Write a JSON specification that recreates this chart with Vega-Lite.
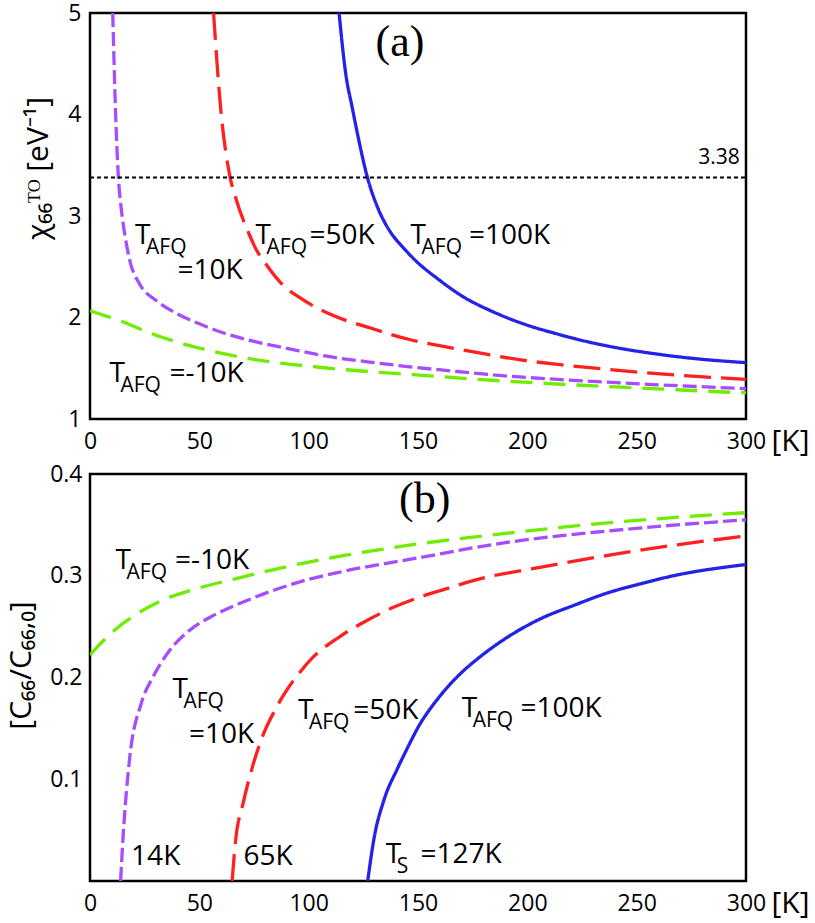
{
  "$schema": "https://vega.github.io/schema/vega-lite/v6.json",
  "background": "white",
  "padding": {"left": 5, "top": 0, "right": 5, "bottom": 0},
  "spacing": 3,
  "config": {
    "view": {"stroke": "black", "strokeWidth": 2.5},
    "font": "Open Sans",
    "axis": {
      "domain": false,
      "grid": false,
      "ticks": false,
      "labelFont": "Open Sans",
      "labelFontSize": 23,
      "labelColor": "black",
      "labelOverlap": false,
      "labelFlush": false,
      "titleFont": "Open Sans",
      "titleFontWeight": "normal",
      "titleColor": "black"
    },
    "rule": {"color": "#444", "strokeWidth": 1.5},
    "text": {"font": "Open Sans", "color": "black", "align": "left", "baseline": "alphabetic"}
  },
  "datasets": {
    "chi": [
      {"series": "10K", "temp": 10.4, "chi": 5.0},
      {"series": "10K", "temp": 11.6, "chi": 4.08},
      {"series": "10K", "temp": 12.8, "chi": 3.45},
      {"series": "10K", "temp": 14.4, "chi": 3.05},
      {"series": "10K", "temp": 15.9, "chi": 2.82},
      {"series": "10K", "temp": 18.2, "chi": 2.56},
      {"series": "10K", "temp": 22.7, "chi": 2.33},
      {"series": "10K", "temp": 30.4, "chi": 2.165},
      {"series": "10K", "temp": 39.5, "chi": 2.04},
      {"series": "10K", "temp": 48.6, "chi": 1.95},
      {"series": "10K", "temp": 60.8, "chi": 1.85},
      {"series": "10K", "temp": 76.0, "chi": 1.76},
      {"series": "10K", "temp": 91.2, "chi": 1.692},
      {"series": "10K", "temp": 104.7, "chi": 1.632},
      {"series": "10K", "temp": 132.0, "chi": 1.55},
      {"series": "10K", "temp": 145.2, "chi": 1.517},
      {"series": "10K", "temp": 168.0, "chi": 1.468},
      {"series": "10K", "temp": 190.9, "chi": 1.423},
      {"series": "10K", "temp": 213.7, "chi": 1.39},
      {"series": "10K", "temp": 236.5, "chi": 1.363},
      {"series": "10K", "temp": 259.3, "chi": 1.337},
      {"series": "10K", "temp": 282.0, "chi": 1.316},
      {"series": "10K", "temp": 300.0, "chi": 1.298},
      {"series": "50K", "temp": 56.5, "chi": 5.0},
      {"series": "50K", "temp": 59.8, "chi": 4.05},
      {"series": "50K", "temp": 63.9, "chi": 3.4},
      {"series": "50K", "temp": 66.9, "chi": 3.16},
      {"series": "50K", "temp": 72.8, "chi": 2.82},
      {"series": "50K", "temp": 76.0, "chi": 2.67},
      {"series": "50K", "temp": 80.0, "chi": 2.54},
      {"series": "50K", "temp": 88.2, "chi": 2.32},
      {"series": "50K", "temp": 95.6, "chi": 2.2},
      {"series": "50K", "temp": 109.4, "chi": 2.036},
      {"series": "50K", "temp": 127.7, "chi": 1.9},
      {"series": "50K", "temp": 145.2, "chi": 1.788},
      {"series": "50K", "temp": 160.4, "chi": 1.72},
      {"series": "50K", "temp": 178.7, "chi": 1.648},
      {"series": "50K", "temp": 197.0, "chi": 1.582},
      {"series": "50K", "temp": 215.2, "chi": 1.535},
      {"series": "50K", "temp": 235.0, "chi": 1.492},
      {"series": "50K", "temp": 251.8, "chi": 1.46},
      {"series": "50K", "temp": 271.6, "chi": 1.428},
      {"series": "50K", "temp": 300.0, "chi": 1.39},
      {"series": "100K", "temp": 113.9, "chi": 5.0},
      {"series": "100K", "temp": 116.9, "chi": 4.41},
      {"series": "100K", "temp": 120.0, "chi": 4.06},
      {"series": "100K", "temp": 123.0, "chi": 3.74},
      {"series": "100K", "temp": 126.5, "chi": 3.41},
      {"series": "100K", "temp": 132.0, "chi": 3.06},
      {"series": "100K", "temp": 135.2, "chi": 2.92},
      {"series": "100K", "temp": 145.3, "chi": 2.64},
      {"series": "100K", "temp": 160.3, "chi": 2.36},
      {"series": "100K", "temp": 171.0, "chi": 2.2},
      {"series": "100K", "temp": 183.2, "chi": 2.067},
      {"series": "100K", "temp": 198.4, "chi": 1.936},
      {"series": "100K", "temp": 213.6, "chi": 1.838},
      {"series": "100K", "temp": 228.8, "chi": 1.755},
      {"series": "100K", "temp": 244.0, "chi": 1.69},
      {"series": "100K", "temp": 259.2, "chi": 1.64},
      {"series": "100K", "temp": 274.4, "chi": 1.6},
      {"series": "100K", "temp": 300.0, "chi": 1.555},
      {"series": "-10K", "temp": 0.0, "chi": 2.067},
      {"series": "-10K", "temp": 13.4, "chi": 1.97},
      {"series": "-10K", "temp": 28.6, "chi": 1.838},
      {"series": "-10K", "temp": 51.5, "chi": 1.69},
      {"series": "-10K", "temp": 74.3, "chi": 1.59},
      {"series": "-10K", "temp": 104.7, "chi": 1.51},
      {"series": "-10K", "temp": 132.0, "chi": 1.46},
      {"series": "-10K", "temp": 147.6, "chi": 1.437},
      {"series": "-10K", "temp": 168.0, "chi": 1.405},
      {"series": "-10K", "temp": 190.9, "chi": 1.372},
      {"series": "-10K", "temp": 213.7, "chi": 1.345},
      {"series": "-10K", "temp": 236.5, "chi": 1.32},
      {"series": "-10K", "temp": 259.3, "chi": 1.297},
      {"series": "-10K", "temp": 282.0, "chi": 1.274},
      {"series": "-10K", "temp": 300.0, "chi": 1.257}
    ],
    "level": [
      {"temp": 0, "chi": 3.38},
      {"temp": 300, "chi": 3.38}
    ],
    "ratio": [
      {"series": "-10K", "temp": 0.0, "ratio": 0.222},
      {"series": "-10K", "temp": 2.9, "ratio": 0.229},
      {"series": "-10K", "temp": 12.0, "ratio": 0.248},
      {"series": "-10K", "temp": 21.1, "ratio": 0.262},
      {"series": "-10K", "temp": 33.2, "ratio": 0.276},
      {"series": "-10K", "temp": 48.3, "ratio": 0.287},
      {"series": "-10K", "temp": 66.4, "ratio": 0.297},
      {"series": "-10K", "temp": 96.7, "ratio": 0.312},
      {"series": "-10K", "temp": 116.4, "ratio": 0.32},
      {"series": "-10K", "temp": 146.0, "ratio": 0.33},
      {"series": "-10K", "temp": 191.4, "ratio": 0.342},
      {"series": "-10K", "temp": 236.8, "ratio": 0.352},
      {"series": "-10K", "temp": 300.0, "ratio": 0.362},
      {"series": "10K", "temp": 14.0, "ratio": 0.0},
      {"series": "10K", "temp": 15.1, "ratio": 0.0424},
      {"series": "10K", "temp": 18.0, "ratio": 0.118},
      {"series": "10K", "temp": 23.5, "ratio": 0.175},
      {"series": "10K", "temp": 28.7, "ratio": 0.2},
      {"series": "10K", "temp": 36.2, "ratio": 0.226},
      {"series": "10K", "temp": 45.3, "ratio": 0.246},
      {"series": "10K", "temp": 57.4, "ratio": 0.262},
      {"series": "10K", "temp": 69.5, "ratio": 0.2737},
      {"series": "10K", "temp": 83.1, "ratio": 0.285},
      {"series": "10K", "temp": 96.7, "ratio": 0.2945},
      {"series": "10K", "temp": 116.3, "ratio": 0.3045},
      {"series": "10K", "temp": 146.0, "ratio": 0.316},
      {"series": "10K", "temp": 191.4, "ratio": 0.333},
      {"series": "10K", "temp": 236.8, "ratio": 0.344},
      {"series": "10K", "temp": 300.0, "ratio": 0.355},
      {"series": "50K", "temp": 65.0, "ratio": 0.0},
      {"series": "50K", "temp": 66.4, "ratio": 0.036},
      {"series": "50K", "temp": 70.2, "ratio": 0.078},
      {"series": "50K", "temp": 74.0, "ratio": 0.11},
      {"series": "50K", "temp": 78.5, "ratio": 0.14},
      {"series": "50K", "temp": 84.6, "ratio": 0.168},
      {"series": "50K", "temp": 88.3, "ratio": 0.182},
      {"series": "50K", "temp": 95.9, "ratio": 0.205},
      {"series": "50K", "temp": 102.0, "ratio": 0.22},
      {"series": "50K", "temp": 114.1, "ratio": 0.24},
      {"series": "50K", "temp": 126.2, "ratio": 0.2555},
      {"series": "50K", "temp": 138.2, "ratio": 0.2685},
      {"series": "50K", "temp": 150.3, "ratio": 0.2786},
      {"series": "50K", "temp": 162.4, "ratio": 0.2868},
      {"series": "50K", "temp": 176.0, "ratio": 0.2957},
      {"series": "50K", "temp": 206.5, "ratio": 0.3085},
      {"series": "50K", "temp": 236.8, "ratio": 0.32},
      {"series": "50K", "temp": 267.0, "ratio": 0.33},
      {"series": "50K", "temp": 300.0, "ratio": 0.339},
      {"series": "100K", "temp": 127.0, "ratio": 0.0},
      {"series": "100K", "temp": 129.9, "ratio": 0.042},
      {"series": "100K", "temp": 134.5, "ratio": 0.08},
      {"series": "100K", "temp": 140.5, "ratio": 0.11},
      {"series": "100K", "temp": 145.0, "ratio": 0.13},
      {"series": "100K", "temp": 150.3, "ratio": 0.152},
      {"series": "100K", "temp": 159.4, "ratio": 0.18},
      {"series": "100K", "temp": 170.0, "ratio": 0.205},
      {"series": "100K", "temp": 177.6, "ratio": 0.219},
      {"series": "100K", "temp": 191.2, "ratio": 0.24},
      {"series": "100K", "temp": 206.3, "ratio": 0.258},
      {"series": "100K", "temp": 221.4, "ratio": 0.271},
      {"series": "100K", "temp": 236.5, "ratio": 0.283},
      {"series": "100K", "temp": 251.6, "ratio": 0.292},
      {"series": "100K", "temp": 266.8, "ratio": 0.3},
      {"series": "100K", "temp": 300.0, "ratio": 0.311}
    ],
    "xMajor": [{"temp": 50}, {"temp": 100}, {"temp": 150}, {"temp": 200}, {"temp": 250}],
    "xMinor": [
      {"temp": 10}, {"temp": 20}, {"temp": 30}, {"temp": 40},
      {"temp": 60}, {"temp": 70}, {"temp": 80}, {"temp": 90},
      {"temp": 110}, {"temp": 120}, {"temp": 130}, {"temp": 140},
      {"temp": 160}, {"temp": 170}, {"temp": 180}, {"temp": 190},
      {"temp": 210}, {"temp": 220}, {"temp": 230}, {"temp": 240},
      {"temp": 260}, {"temp": 270}, {"temp": 280}, {"temp": 290}
    ],
    "yMajorA": [{"chi": 2}, {"chi": 3}, {"chi": 4}],
    "yMinorA": [
      {"chi": 1.2}, {"chi": 1.4}, {"chi": 1.6}, {"chi": 1.8},
      {"chi": 2.2}, {"chi": 2.4}, {"chi": 2.6}, {"chi": 2.8},
      {"chi": 3.2}, {"chi": 3.4}, {"chi": 3.6}, {"chi": 3.8},
      {"chi": 4.2}, {"chi": 4.4}, {"chi": 4.6}, {"chi": 4.8}
    ],
    "yMajorB": [{"ratio": 0.1}, {"ratio": 0.2}, {"ratio": 0.3}],
    "yMinorB": [
      {"ratio": 0.02}, {"ratio": 0.04}, {"ratio": 0.06}, {"ratio": 0.08},
      {"ratio": 0.12}, {"ratio": 0.14}, {"ratio": 0.16}, {"ratio": 0.18},
      {"ratio": 0.22}, {"ratio": 0.24}, {"ratio": 0.26}, {"ratio": 0.28},
      {"ratio": 0.32}, {"ratio": 0.34}, {"ratio": 0.36}, {"ratio": 0.38}
    ],
    "tA": [
      {"temp": 20.6, "chi": 2.72, "sub": "AFQ"},
      {"temp": 75.7, "chi": 2.72, "sub": "AFQ"},
      {"temp": 146.6, "chi": 2.72, "sub": "AFQ"},
      {"temp": 8.9, "chi": 1.362, "sub": "AFQ"}
    ],
    "pA": [
      {"temp": 40.0, "chi": 2.379, "text": "=10K"},
      {"temp": 100.4, "chi": 2.72, "text": "=50K"},
      {"temp": 173.3, "chi": 2.72, "text": "=100K"},
      {"temp": 36.3, "chi": 1.362, "text": "=-10K"}
    ],
    "sA": [{"temp": 297.2, "chi": 3.509, "text": "3.38"}],
    "nA": [{"temp": 130.6, "chi": 4.58, "text": "(a)"}],
    "tB": [
      {"temp": 11.7, "ratio": 0.3065, "sub": "AFQ"},
      {"temp": 37.7, "ratio": 0.18, "sub": "AFQ"},
      {"temp": 95.1, "ratio": 0.159, "sub": "AFQ"},
      {"temp": 170.0, "ratio": 0.161, "sub": "AFQ"},
      {"temp": 135.2, "ratio": 0.0178, "sub": "S"}
    ],
    "pB": [
      {"temp": 38.9, "ratio": 0.3065, "text": "=-10K"},
      {"temp": 45.3, "ratio": 0.136, "text": "=10K"},
      {"temp": 120.4, "ratio": 0.159, "text": "=50K"},
      {"temp": 196.9, "ratio": 0.161, "text": "=100K"},
      {"temp": 18.8, "ratio": 0.0161, "text": "14K"},
      {"temp": 70.2, "ratio": 0.0161, "text": "65K"},
      {"temp": 151.1, "ratio": 0.0178, "text": "=127K"}
    ],
    "nB": [{"temp": 141.3, "ratio": 0.362, "text": "(b)"}]
  },
  "vconcat": [
    {
      "width": 656,
      "height": 406,
      "encoding": {
        "x": {
          "field": "temp",
          "type": "quantitative",
          "scale": {"domain": [0, 300], "nice": false, "zero": false},
          "axis": {
            "values": [0, 50, 100, 150, 200, 250, 300],
            "format": "d",
            "labelPadding": 11,
            "title": "[K]",
            "titleFontSize": 30,
            "titleAngle": 0,
            "titleAlign": "left",
            "titleBaseline": "alphabetic",
            "titleX": 681,
            "titleY": 31
          }
        },
        "y": {
          "field": "chi",
          "type": "quantitative",
          "scale": {"domain": [1, 5], "nice": false, "zero": false},
          "axis": {
            "values": [1, 2, 3, 4, 5],
            "format": "d",
            "labelPadding": 9,
            "title": "χ₆₆ᵀᴼ  [eV⁻¹]",
            "titleFontSize": 30,
            "titlePadding": 14,
            "titleY": 155
          }
        }
      },
      "layer": [
        {
          "data": {"name": "xMajor"},
          "mark": {"type": "rule"},
          "encoding": {"y": {"datum": 1}, "y2": {"datum": 1.079}}
        },
        {
          "data": {"name": "xMinor"},
          "mark": {"type": "rule"},
          "encoding": {"y": {"datum": 1}, "y2": {"datum": 1.044}}
        },
        {
          "data": {"name": "yMajorA"},
          "mark": {"type": "rule"},
          "encoding": {"x": {"datum": 0}, "x2": {"datum": 3.66}}
        },
        {
          "data": {"name": "yMinorA"},
          "mark": {"type": "rule"},
          "encoding": {"x": {"datum": 0}, "x2": {"datum": 2.06}}
        },
        {
          "data": {"name": "chi"},
          "mark": {"type": "line", "strokeWidth": 3.3, "clip": true, "interpolate": "monotone"},
          "encoding": {
            "color": {
              "field": "series",
              "type": "nominal",
              "scale": {"domain": ["-10K", "10K", "50K", "100K"], "range": ["#6fec00", "#a64dff", "#ff2020", "#2323e8"]},
              "legend": null
            },
            "strokeDash": {
              "field": "series",
              "type": "nominal",
              "scale": {"domain": ["-10K", "10K", "50K", "100K"], "range": [[22, 11], [14, 5], [27, 10], [1, 0]]},
              "legend": null
            }
          }
        },
        {
          "data": {"name": "level"},
          "mark": {"type": "line", "color": "black", "strokeWidth": 2, "strokeDash": [4, 3]},
          "encoding": {}
        },
        {
          "data": {"name": "tA"},
          "layer": [
            {"mark": {"type": "text", "text": "T", "fontSize": 28}, "encoding": {}},
            {"mark": {"type": "text", "fontSize": 21, "dx": 11, "dy": 10}, "encoding": {"text": {"field": "sub"}}}
          ]
        },
        {
          "data": {"name": "pA"},
          "mark": {"type": "text", "fontSize": 28},
          "encoding": {"text": {"field": "text"}}
        },
        {
          "data": {"name": "sA"},
          "mark": {"type": "text", "fontSize": 21, "align": "right"},
          "encoding": {"text": {"field": "text"}}
        },
        {
          "data": {"name": "nA"},
          "mark": {"type": "text", "fontSize": 44, "font": "Liberation Serif"},
          "encoding": {"text": {"field": "text"}}
        }
      ]
    },
    {
      "width": 656,
      "height": 407,
      "encoding": {
        "x": {
          "field": "temp",
          "type": "quantitative",
          "scale": {"domain": [0, 300], "nice": false, "zero": false},
          "axis": {
            "values": [0, 50, 100, 150, 200, 250, 300],
            "format": "d",
            "labelPadding": 11,
            "title": "[K]",
            "titleFontSize": 30,
            "titleAngle": 0,
            "titleAlign": "left",
            "titleBaseline": "alphabetic",
            "titleX": 681,
            "titleY": 31
          }
        },
        "y": {
          "field": "ratio",
          "type": "quantitative",
          "scale": {"domain": [0, 0.4], "nice": false, "zero": false},
          "axis": {
            "values": [0.1, 0.2, 0.3, 0.4],
            "format": ".1f",
            "labelPadding": 8,
            "title": "[C₆₆/C₆₆,₀]",
            "titleFontSize": 30,
            "titlePadding": 13,
            "titleY": 191
          }
        }
      },
      "layer": [
        {
          "data": {"name": "xMajor"},
          "mark": {"type": "rule"},
          "encoding": {"y": {"datum": 0}, "y2": {"datum": 0.0079}}
        },
        {
          "data": {"name": "xMinor"},
          "mark": {"type": "rule"},
          "encoding": {"y": {"datum": 0}, "y2": {"datum": 0.0044}}
        },
        {
          "data": {"name": "yMajorB"},
          "mark": {"type": "rule"},
          "encoding": {"x": {"datum": 0}, "x2": {"datum": 3.66}}
        },
        {
          "data": {"name": "yMinorB"},
          "mark": {"type": "rule"},
          "encoding": {"x": {"datum": 0}, "x2": {"datum": 2.06}}
        },
        {
          "data": {"name": "ratio"},
          "mark": {"type": "line", "strokeWidth": 3.3, "clip": true, "interpolate": "monotone"},
          "encoding": {
            "color": {
              "field": "series",
              "type": "nominal",
              "scale": {"domain": ["-10K", "10K", "50K", "100K"], "range": ["#6fec00", "#a64dff", "#ff2020", "#2323e8"]},
              "legend": null
            },
            "strokeDash": {
              "field": "series",
              "type": "nominal",
              "scale": {"domain": ["-10K", "10K", "50K", "100K"], "range": [[22, 11], [14, 5], [27, 10], [1, 0]]},
              "legend": null
            }
          }
        },
        {
          "data": {"name": "tB"},
          "layer": [
            {"mark": {"type": "text", "text": "T", "fontSize": 28}, "encoding": {}},
            {"mark": {"type": "text", "fontSize": 21, "dx": 11, "dy": 10}, "encoding": {"text": {"field": "sub"}}}
          ]
        },
        {
          "data": {"name": "pB"},
          "mark": {"type": "text", "fontSize": 28},
          "encoding": {"text": {"field": "text"}}
        },
        {
          "data": {"name": "nB"},
          "mark": {"type": "text", "fontSize": 44, "font": "Liberation Serif"},
          "encoding": {"text": {"field": "text"}}
        }
      ]
    }
  ]
}
